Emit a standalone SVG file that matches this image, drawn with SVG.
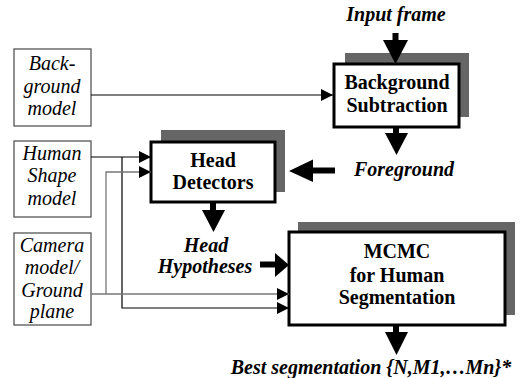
<svg xmlns="http://www.w3.org/2000/svg" width="521" height="378" viewBox="0 0 521 378">
<style>
.src{fill:#fff;stroke:#555;stroke-width:1.3}
.box{fill:#fff;stroke:#000;stroke-width:3}
.sh{fill:#666}
text{font-size:20px;text-anchor:middle;fill:#000}
.it{font-style:italic}
.bd{font-weight:bold}
.bi{font-weight:bold;font-style:italic}
.thin{fill:none;stroke:#000;stroke-width:1.2}
.gray{fill:none;stroke:#777;stroke-width:1.3}
.fat{fill:none;stroke:#000;stroke-width:6}
</style>
<defs>
<marker id="ah" markerWidth="12" markerHeight="12" refX="12" refY="6" orient="auto" markerUnits="userSpaceOnUse">
<path d="M0,0 L12,6 L0,12 Z" fill="#000"/>
</marker>
</defs>
<g font-family="Liberation Serif, DejaVu Serif, serif">
<g id="bgmodel">
<rect class="src" x="14" y="49" width="77" height="77"/>
<text class="it" x="52" y="70">Back-</text>
<text class="it" x="52" y="93">ground</text>
<text class="it" x="52" y="115">model</text>
</g>
<g id="humanshape">
<rect class="src" x="14" y="141" width="77" height="76"/>
<text class="it" x="52" y="160">Human</text>
<text class="it" x="52" y="182">Shape</text>
<text class="it" x="52" y="205">model</text>
</g>
<g id="camera">
<rect class="src" x="14" y="233" width="77" height="92"/>
<text class="it" x="52" y="252">Camera</text>
<text class="it" x="52" y="274">model/</text>
<text class="it" x="52" y="297">Ground</text>
<text class="it" x="52" y="318">plane</text>
</g>
<g id="bgsub">
<rect class="sh" x="345" y="53" width="124" height="64"/>
<rect class="box" x="334" y="64" width="125" height="63"/>
<text class="bd" x="397" y="89">Background</text>
<text class="bd" x="397" y="112">Subtraction</text>
</g>
<g id="headdet">
<rect class="sh" x="161" y="130" width="124" height="62"/>
<rect class="box" x="151" y="142" width="124" height="60"/>
<text class="bd" x="213" y="167">Head</text>
<text class="bd" x="213" y="189">Detectors</text>
</g>
<g id="mcmc">
<rect class="sh" x="298" y="222" width="217" height="93"/>
<rect class="box" x="289" y="232" width="216" height="93"/>
<text class="bd" x="397" y="258">MCMC</text>
<text class="bd" x="397" y="282">for Human</text>
<text class="bd" x="397" y="304">Segmentation</text>
</g>
<g id="labels">
<text class="bi" x="396" y="21">Input frame</text>
<text class="bi" x="404" y="176">Foreground</text>
<text class="bi" x="206" y="252">Head</text>
<text class="bi" x="205" y="273">Hypotheses</text>
<text class="bi" x="371" y="374">Best segmentation {N,M1,…Mn}*</text>
</g>
</g>
<g id="connectors">
<path class="thin" d="M91,95 H333" marker-end="url(#ah)"/>
<path class="thin" d="M91,157 H151" marker-end="url(#ah)"/>
<path class="thin" d="M122,157 V308 H289" marker-end="url(#ah)"/>
<path class="gray" d="M91,294 H289"/>
<path fill="#000" d="M277,288 L289,294 L277,300 Z"/>
<path class="gray" d="M106,294 V172 H151"/>
<path fill="#000" d="M139,166 L151,172 L139,178 Z"/>
<path class="fat" d="M395.5,33 V42"/>
<path fill="#000" d="M383,40 H408 L395.5,64 Z"/>
<path class="fat" d="M396,127 V135"/>
<path fill="#000" d="M385,133 H408 L396.5,155 Z"/>
<path class="fat" d="M335,170.5 H311"/>
<path fill="#000" d="M313,159.5 V182 L289,171 Z"/>
<path class="fat" d="M213,202 V212"/>
<path fill="#000" d="M202,210 H225 L213.5,232 Z"/>
<path class="fat" d="M260,264.5 H277"/>
<path fill="#000" d="M275,253 V277 L289,265 Z"/>
<path class="fat" d="M396,325 V334"/>
<path fill="#000" d="M385,332 H408 L396.5,355 Z"/>
</g>
</svg>
